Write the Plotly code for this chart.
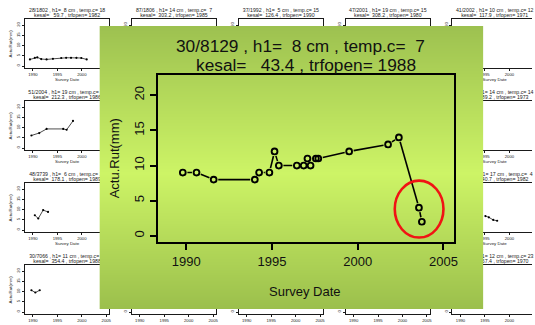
import numpy as np
import plotly.graph_objects as go

W, H = 535, 325
FONT = "Liberation Sans, Arial, Helvetica, sans-serif"
NB = "\u00a0"

# ---------------- featured section ----------------
main_section = "30/8129"
main_h1_cm = 8
main_temp_c = 7
main_kesal = 43.4
main_trfopen = 1988
survey_date = [1989.8, 1990.6, 1991.6, 1994.0, 1994.25, 1994.85, 1995.15, 1995.4,
               1996.45, 1996.85, 1997.07, 1997.25, 1997.56, 1997.7, 1999.5,
               2001.77, 2002.4, 2003.57, 2003.74]
rut_mm = [9, 9, 8, 8, 9, 9, 12, 10, 10, 10, 11, 10, 11, 11, 12, 13, 14, 4, 2]

x_ticks = [1990, 1995, 2000, 2005]
y_ticks = [0, 5, 10, 15, 20]
x_lim = (1989, 2005)
y_lim = (0, 22)

# ---------------- background grid of sections (row-major, 5 x 4) ----------------
grid_section = ["28/1802", "87/1806", "37/1992", "47/2001", "41/2002",
                "51/2004", None, None, None, "44/2017",
                "48/3739", None, None, None, "49/3512",
                "30/7066", None, None, None, "33/7212"]
grid_h1_cm = [8, 14, 5, 19, 10, 19, None, None, None, 14,
              6, None, None, None, 17, 11, None, None, None, 12]
grid_temp_c = [18, 7, 15, 15, 12, 13, None, None, None, 14,
               11, None, None, None, 4, 9, None, None, None, 23]
grid_kesal = [59.7, 303.2, 126.4, 308.2, 117.9, 212.3, None, None, None, 189.2,
              178.1, None, None, None, 240.7, 354.4, None, None, None, 267.4]
grid_trfopen = [1982, 1985, 1990, 1980, 1971, 1986, None, None, None, 1973,
                1989, None, None, None, 1982, 1988, None, None, None, 1970]

s_28_1802_year = [1989.4, 1990.4, 1990.9, 1991.7, 1992.8, 1994.1, 1995.8, 1996.8,
                  1997.8, 1998.9, 1999.9, 2001.0]
s_28_1802_rut = [3.2, 4.0, 4.2, 3.4, 3.2, 3.5, 3.9, 4.0, 4.0, 4.0, 3.9, 3.2]
s_51_2004_year = [1989.7, 1991.3, 1992.8, 1996.2, 1996.9, 1998.2]
s_51_2004_rut = [6.1, 7.3, 9.3, 9.3, 8.9, 13.2]
s_48_3739_year = [1990.4, 1991.1, 1992.1, 1993.1]
s_48_3739_rut = [7.2, 5.6, 9.7, 8.8]
s_30_7066_year = [1989.7, 1990.5, 1991.4]
s_30_7066_rut = [10.6, 9.5, 10.6]
s_49_3512_year = [1995.1, 1995.8, 1996.7, 1997.5]
s_49_3512_rut = [6.8, 6.2, 4.9, 4.5]

grid_series = {0: (s_28_1802_year, s_28_1802_rut),
               5: (s_51_2004_year, s_51_2004_rut),
               10: (s_48_3739_year, s_48_3739_rut),
               14: (s_49_3512_year, s_49_3512_rut),
               15: (s_30_7066_year, s_30_7066_rut)}

# ---------------- geometry (pixels) ----------------
N_COLS, N_ROWS = 5, 4
COL_X0, COL_PITCH, BOX_W = 25.0, 107.5, 85.0
ROW_Y0, ROW_PITCH, BOX_H = 19.1, 82.0, 48.7
PANEL = (100, 26, 486, 309)      # green slide panel: left, top, right, bottom
MAIN_BOX = (159, 75, 457, 242)   # featured plot box

# subplot numbering: small panels 10..29, grid labels 30, slide panel 31, featured 32
TXT, BG, MAIN = 30, 31, 32


def r_range(lo, hi):
    pad = 0.04 * (hi - lo)
    return [lo - pad, hi + pad]


XR = r_range(*x_lim)
YR = r_range(*y_lim)


def xdom(a, b):
    return [a / W, b / W]


def ydom(top, bot):
    return [1 - bot / H, 1 - top / H]


def title_lines(sec, h1, temp, kesal, trf):
    l1 = f"{sec} , h1= {h1:2d} cm , temp.c= {temp:2d}".replace(" ", NB)
    l2 = f"kesal= {kesal:6.1f} , trfopen= {trf}".replace(" ", NB)
    return l1, l2


fig = go.Figure()
layout = dict(width=W, height=H, margin=dict(l=0, r=0, t=0, b=0),
              paper_bgcolor="white", plot_bgcolor="rgba(0,0,0,0)",
              showlegend=False, font=dict(family=FONT, color="black"))
annotations = []

SMALL_INK = "#1a1a1a"
px_per_yr_small = BOX_W / (XR[1] - XR[0])

lab_x, lab_y, lab_t, lab_s = [], [], [], []

for i in range(N_COLS * N_ROWS):
    r, c = divmod(i, N_COLS)
    n = 10 + i
    left = COL_X0 + COL_PITCH * c
    right = left + BOX_W
    top = ROW_Y0 + ROW_PITCH * r
    bot = top + BOX_H
    centre = (left + right) / 2
    xr = list(XR)
    clipped = right > W
    if clipped:
        xr[1] = XR[0] + (W - left) / px_per_yr_small
        right = W

    layout[f"xaxis{n}"] = dict(
        domain=xdom(left, right), anchor=f"y{n}", range=xr, tickvals=x_ticks,
        ticks="outside", ticklen=2, tickwidth=0.6, tickcolor=SMALL_INK,
        showline=True, linewidth=0.9, linecolor=SMALL_INK, mirror=True,
        showgrid=False, zeroline=False, fixedrange=True,
        tickfont=dict(size=4.2, color=SMALL_INK))
    layout[f"yaxis{n}"] = dict(
        domain=ydom(top, bot), anchor=f"x{n}", range=YR, tickvals=y_ticks,
        ticks="outside", ticklen=2, tickwidth=0.6, tickcolor=SMALL_INK,
        showline=True, linewidth=0.9, linecolor=SMALL_INK, mirror=not clipped,
        showgrid=False, zeroline=False, fixedrange=True, tickangle=-90,
        tickfont=dict(size=4.2, color=SMALL_INK))

    xa, ya = f"x{n}", f"y{n}"
    if i in grid_series:
        yrs, vals = grid_series[i]
        fig.add_trace(go.Scatter(x=yrs, y=vals, mode="lines+markers", xaxis=xa, yaxis=ya,
                                 line=dict(color="black", width=0.7),
                                 marker=dict(color="black", size=2.2),
                                 hoverinfo="skip"))
    else:
        fig.add_trace(go.Scatter(x=[], y=[], mode="markers", xaxis=xa, yaxis=ya))

    if grid_section[i] is not None:
        l1, l2 = title_lines(grid_section[i], grid_h1_cm[i], grid_temp_c[i],
                             grid_kesal[i], grid_trfopen[i])
        lab_x += [centre, centre]
        lab_y += [top - 8.0, top - 3.0]
        lab_t += [l1, l2]
        lab_s += [5.2, 5.2]
        if r < N_ROWS - 1 and c in (0, N_COLS - 1):
            lab_x.append(centre)
            lab_y.append(bot + 12.2)
            lab_t.append("Survey Date")
            lab_s.append(4.4)
        if c == 0:
            annotations.append(dict(
                text="Actu.Rut(mm)", xref="paper", yref="paper", showarrow=False,
                x=11 / W, y=1 - (top + bot) / 2 / H, textangle=-90,
                xanchor="center", yanchor="middle",
                font=dict(size=4.4, color=SMALL_INK)))

# labels of the grid panels, on a pixel-space layer beneath the slide panel
fig.add_trace(go.Scatter(x=lab_x, y=lab_y, text=lab_t, mode="text", cliponaxis=False,
                         textfont=dict(size=lab_s, color=SMALL_INK, family=FONT),
                         xaxis=f"x{TXT}", yaxis=f"y{TXT}", hoverinfo="skip"))
layout[f"xaxis{TXT}"] = dict(domain=[0, 1], anchor=f"y{TXT}", range=[0, W],
                             visible=False, fixedrange=True)
layout[f"yaxis{TXT}"] = dict(domain=[0, 1], anchor=f"x{TXT}", range=[H, 0],
                             visible=False, fixedrange=True)

# ---------------- green slide panel (vertical gradient) ----------------
grad_y = np.linspace(0, 1, 60)
fig.add_trace(go.Heatmap(
    x=[0, 1], y=grad_y, z=[[v, v] for v in grad_y], zsmooth="best",
    colorscale=[[0.0, "#9BBF4C"], [0.48, "#CDF466"], [1.0, "#9DC150"]],
    zmin=0, zmax=1, showscale=False, hoverinfo="skip", xaxis=f"x{BG}", yaxis=f"y{BG}"))
layout[f"xaxis{BG}"] = dict(domain=xdom(PANEL[0], PANEL[2]), anchor=f"y{BG}", range=[0, 1],
                            visible=False, fixedrange=True)
layout[f"yaxis{BG}"] = dict(domain=ydom(PANEL[1], PANEL[3]), anchor=f"x{BG}", range=[0, 1],
                            visible=False, fixedrange=True)

# ---------------- featured plot ----------------
mx0, my0, mx1, my1 = MAIN_BOX
px_yr = (mx1 - mx0) / (XR[1] - XR[0])
px_mm = (my1 - my0) / (YR[1] - YR[0])
GAP = 4.6  # px left open around each point (type "b" style)

seg_x, seg_y = [], []
for (xa_, ya_), (xb_, yb_) in zip(zip(survey_date, rut_mm), zip(survey_date[1:], rut_mm[1:])):
    dx, dy = (xb_ - xa_) * px_yr, (yb_ - ya_) * px_mm
    d = (dx * dx + dy * dy) ** 0.5
    if d <= 2 * GAP:
        continue
    f = GAP / d
    seg_x += [xa_ + (xb_ - xa_) * f, xb_ - (xb_ - xa_) * f, None]
    seg_y += [ya_ + (yb_ - ya_) * f, yb_ - (yb_ - ya_) * f, None]

fig.add_trace(go.Scatter(x=seg_x, y=seg_y, mode="lines", xaxis=f"x{MAIN}", yaxis=f"y{MAIN}",
                         line=dict(color="black", width=1.6), hoverinfo="skip",
                         connectgaps=False))
fig.add_trace(go.Scatter(x=survey_date, y=rut_mm, mode="markers",
                         xaxis=f"x{MAIN}", yaxis=f"y{MAIN}",
                         marker=dict(symbol="circle-open", size=5.8, color="black",
                                     line=dict(width=1.9, color="black"))))

layout[f"xaxis{MAIN}"] = dict(
    domain=xdom(mx0, mx1), anchor=f"y{MAIN}", range=XR, tickvals=x_ticks,
    ticks="outside", ticklen=6, tickwidth=2, tickcolor="black",
    showline=True, linewidth=2, linecolor="black", mirror=True,
    showgrid=False, zeroline=False, fixedrange=True, ticklabelstandoff=0,
    tickfont=dict(size=13, color="#111"))
layout[f"yaxis{MAIN}"] = dict(
    domain=ydom(my0, my1), anchor=f"x{MAIN}", range=YR, tickvals=y_ticks,
    ticks="outside", ticklen=6, tickwidth=2, tickcolor="black",
    showline=True, linewidth=2, linecolor="black", mirror=True,
    showgrid=False, zeroline=False, fixedrange=True, tickangle=-90, ticklabelstandoff=1,
    tickfont=dict(size=13, color="#111"))

t1, t2 = title_lines(main_section, main_h1_cm, main_temp_c, main_kesal, main_trfopen)
annotations += [
    dict(text=t1, xref="paper", yref="paper", x=302.5 / W, y=1 - 46.2 / H,
         xanchor="center", yanchor="middle", showarrow=False, font=dict(size=17.3, color="#111")),
    dict(text=t2, xref="paper", yref="paper", x=307.5 / W, y=1 - 64.5 / H,
         xanchor="center", yanchor="middle", showarrow=False, font=dict(size=17.3, color="#111")),
    dict(text="Survey Date", xref="paper", yref="paper", x=307 / W, y=1 - 291 / H,
         xanchor="center", yanchor="middle", showarrow=False, font=dict(size=13, color="#111")),
    dict(text="Actu.Rut(mm)", xref="paper", yref="paper", x=115 / W, y=1 - 158 / H,
         xanchor="center", yanchor="middle", textangle=-90, showarrow=False,
         font=dict(size=13, color="#111")),
]

# red ring around the last two surveys
ring_cx, ring_cy, ring_rx, ring_ry = 2003.58, 3.8, 1.42, 4.05
shapes = [dict(type="circle", xref=f"x{MAIN}", yref=f"y{MAIN}",
               x0=ring_cx - ring_rx, x1=ring_cx + ring_rx,
               y0=ring_cy - ring_ry, y1=ring_cy + ring_ry,
               line=dict(color="#F01414", width=2.6), layer="above")]

layout["annotations"] = annotations
layout["shapes"] = shapes
fig.update_layout(**layout)
fig.write_html("out.html")
